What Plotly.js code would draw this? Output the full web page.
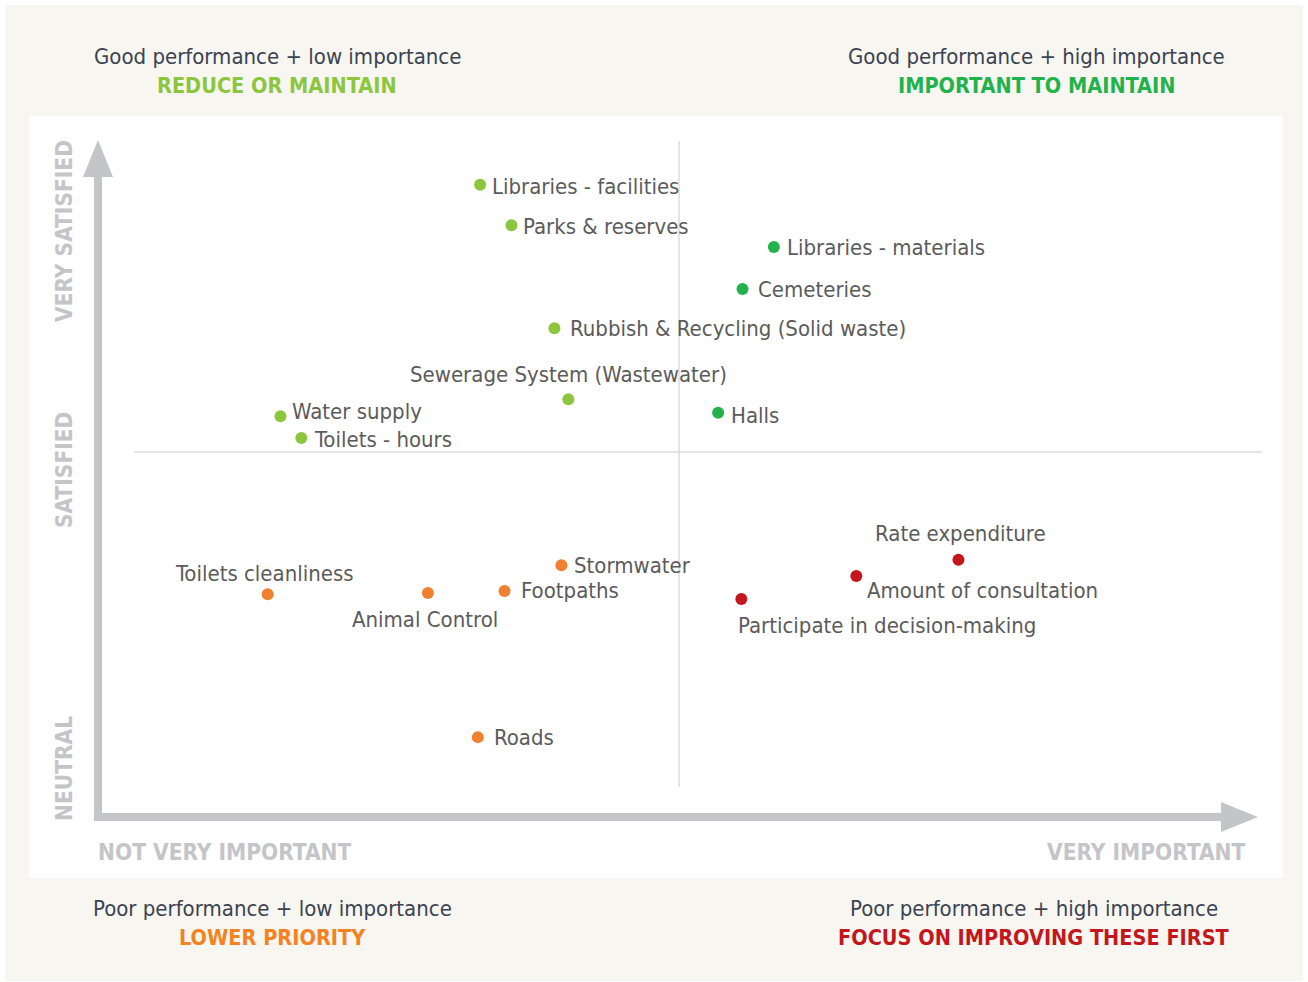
<!DOCTYPE html>
<html>
<head>
<meta charset="utf-8">
<script src="https://cdn.plot.ly/plotly-3.0.1.min.js"></script>
<style>
  html, body { margin: 0; padding: 0; background: #ffffff; }
  #chart { width: 1308px; height: 982px; }
</style>
</head>
<body>
<div id="chart"></div>
<script>
// services, rated on importance (0 = not very important, 10 = very important)
// and satisfaction (0 = neutral, 10 = very satisfied)
var services = [
  'Libraries - facilities', 'Parks & reserves', 'Libraries - materials', 'Cemeteries',
  'Rubbish & Recycling (Solid waste)', 'Sewerage System (Wastewater)', 'Water supply',
  'Toilets - hours', 'Halls', 'Rate expenditure', 'Amount of consultation',
  'Participate in decision-making', 'Stormwater', 'Footpaths', 'Animal Control',
  'Toilets cleanliness', 'Roads'
];
var importance = [3.30, 3.57, 5.83, 5.56, 3.94, 4.06, 1.58, 1.76, 5.35, 7.42, 6.54, 5.55, 4.00, 3.51, 2.85, 1.47, 3.28];
var satisfaction = [9.34, 8.74, 8.42, 7.80, 7.22, 6.17, 5.92, 5.60, 5.97, 3.80, 3.56, 3.22, 3.72, 3.34, 3.31, 3.29, 1.18];
var quadrant = ['reduce', 'reduce', 'maintain', 'maintain', 'reduce', 'reduce', 'reduce',
  'reduce', 'maintain', 'focus', 'focus', 'focus', 'lower', 'lower', 'lower', 'lower', 'lower'];

var groupColors = { reduce: '#8cc63f', maintain: '#22b24c', lower: '#f07f2f', focus: '#c4161c' };

// where each label sits relative to its dot (pixels)
var labelPlace = {
  'Libraries - facilities': ['left', 10, -2],
  'Parks & reserves': ['left', 10, -1],
  'Libraries - materials': ['left', 11, -1],
  'Cemeteries': ['left', 13, -1],
  'Rubbish & Recycling (Solid waste)': ['left', 14, 0],
  'Sewerage System (Wastewater)': ['center', 0, 25],
  'Water supply': ['left', 10, 5],
  'Toilets - hours': ['left', 11, -2],
  'Halls': ['left', 11, -3],
  'Rate expenditure': ['center', 2, 26],
  'Amount of consultation': ['left', 9, -14],
  'Participate in decision-making': ['left', -5, -26],
  'Stormwater': ['left', 11, 0],
  'Footpaths': ['left', 14, 0],
  'Animal Control': ['center', -3, -27],
  'Toilets cleanliness': ['center', -3, 21],
  'Roads': ['left', 14, 0]
};

var W = 1308, H = 982;
function px(x) { return x / W; }
function py(y) { return 1 - y / H; }

var labelFont = 'Liberation Sans Narrow, DejaVu Sans Condensed, Arial Narrow, sans-serif';
var axisGrey = '#c4c5c9';
var headText = '#3c4352';

var groups = ['reduce', 'maintain', 'lower', 'focus'];
var data = groups.map(function (g) {
  var xs = [], ys = [], ns = [];
  services.forEach(function (s, i) {
    if (quadrant[i] === g) { xs.push(importance[i]); ys.push(satisfaction[i]); ns.push(s); }
  });
  return {
    x: xs, y: ys, text: ns, type: 'scatter', mode: 'markers', name: g,
    marker: { size: 12, color: groupColors[g] }, hoverinfo: 'text'
  };
});

var annotations = services.map(function (s, i) {
  var p = labelPlace[s];
  return {
    x: importance[i], y: satisfaction[i], xref: 'x', yref: 'y', text: s, showarrow: false,
    xanchor: p[0], yanchor: 'middle', xshift: p[1], yshift: p[2],
    font: { family: labelFont, size: 22, color: '#5b5b5b' }
  };
});

function note(text, x, y, anchor, font, angle) {
  return {
    text: text, x: px(x), y: py(y), xref: 'paper', yref: 'paper', showarrow: false,
    xanchor: anchor, yanchor: 'middle', font: font, textangle: angle || 0
  };
}
var headFont = { family: labelFont, size: 22, color: headText };
function boldFont(c) { return { family: labelFont, size: 21.5, color: c, weight: 'bold' }; }
var axisFont = { family: labelFont, size: 22.5, color: axisGrey, weight: 'bold' };

annotations = annotations.concat([
  note('Good performance + low importance', 277, 57, 'center', headFont),
  note('REDUCE OR MAINTAIN', 277, 86, 'center', boldFont('#8cc63f')),
  note('Good performance + high importance', 1036, 57, 'center', headFont),
  note('IMPORTANT TO MAINTAIN', 1036, 86, 'center', boldFont('#22b24c')),
  note('Poor performance + low importance', 272, 908, 'center', headFont),
  note('LOWER PRIORITY', 272, 937, 'center', boldFont('#f58220')),
  note('Poor performance + high importance', 1034, 908, 'center', headFont),
  note('FOCUS ON IMPROVING THESE FIRST', 1034, 937, 'center', boldFont('#c4161c')),
  note('NOT VERY IMPORTANT', 96, 852, 'left', axisFont),
  note('VERY IMPORTANT', 1248, 852, 'right', axisFont),
  note('VERY SATISFIED', 64, 231, 'center', axisFont, -90),
  note('SATISFIED', 64, 470, 'center', axisFont, -90),
  note('NEUTRAL', 64, 769, 'center', axisFont, -90)
]);

function rect(x0, y0, x1, y1, color) {
  return { type: 'rect', xref: 'paper', yref: 'paper', x0: px(x0), x1: px(x1), y0: py(y0), y1: py(y1),
    fillcolor: color, line: { width: 0 }, layer: 'below' };
}
function seg(x0, y0, x1, y1, color, w) {
  return { type: 'line', xref: 'paper', yref: 'paper', x0: px(x0), x1: px(x1), y0: py(y0), y1: py(y1),
    line: { color: color, width: w }, layer: 'below' };
}
function tri(a, b, c, color) {
  var path = 'M ' + px(a[0]) + ' ' + py(a[1]) + ' L ' + px(b[0]) + ' ' + py(b[1]) +
    ' L ' + px(c[0]) + ' ' + py(c[1]) + ' Z';
  return { type: 'path', xref: 'paper', yref: 'paper', path: path, fillcolor: color,
    line: { width: 0 }, layer: 'below' };
}

var shapes = [
  rect(5, 5, 1303, 981, '#f7f6f1'),
  rect(29, 116, 1283, 878, '#ffffff'),
  seg(679, 141, 679, 787, '#dcdce0', 1.5),
  seg(134, 452, 1262, 452, '#dcdce0', 1.5),
  rect(94, 172, 102, 821, axisGrey),
  rect(94, 813, 1224, 821, axisGrey),
  tri([98, 140], [83, 177], [113, 177], axisGrey),
  tri([1258, 817], [1221, 802], [1221, 832], axisGrey)
];

var layout = {
  width: W, height: H,
  margin: { l: 0, r: 0, t: 0, b: 0 },
  paper_bgcolor: '#ffffff',
  plot_bgcolor: 'rgba(0,0,0,0)',
  showlegend: false,
  xaxis: { range: [-0.8355, 10.4307], visible: false, fixedrange: true },
  yaxis: { range: [-2.437, 12.068], visible: false, fixedrange: true },
  shapes: shapes,
  annotations: annotations
};

Plotly.newPlot('chart', data, layout, { displayModeBar: false, staticPlot: true });
</script>
</body>
</html>
